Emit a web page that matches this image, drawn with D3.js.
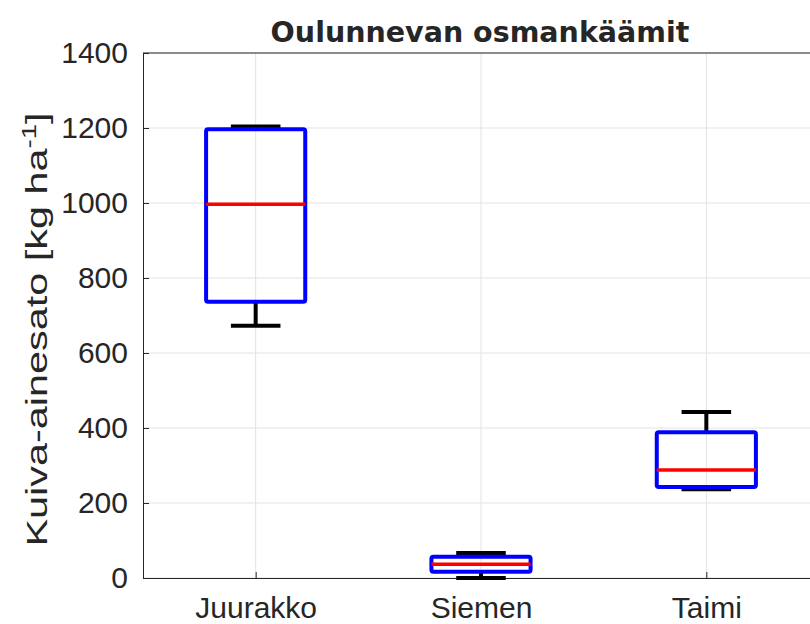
<!DOCTYPE html>
<html lang="fi">
<head>
<meta charset="UTF-8">
<title>Oulunnevan osmankäämit</title>
<script src="https://d3js.org/d3.v7.min.js"></script>
<style>
  body { margin: 0; background: #fff; }
  text { font-family: "Liberation Sans", Arial, sans-serif; fill: #262626; }
</style>
</head>
<body>
<div id="chart"></div>
<script>
// box statistics (kg/ha)
var categories = ['Juurakko', 'Siemen', 'Taimi'];
var whiskerLow  = [673, 0, 237];
var q1          = [737, 17, 243];
var median      = [997, 37, 288];
var q3          = [1197, 57, 389];
var whiskerHigh = [1204, 67, 443];
var yTicks = [0, 200, 400, 600, 800, 1000, 1200, 1400];

var W = 810, H = 624;
var margin = {left: 143, right: -9, top: 53, bottom: 46};

var svg = d3.select('#chart').append('svg')
    .attr('width', W)
    .attr('height', H);

var x = d3.scaleLinear()
    .domain([0.5, 3.5])
    .range([margin.left, W - margin.right]);
var y = d3.scaleLinear()
    .domain([0, 1400])
    .range([H - margin.bottom, margin.top]);

var g = svg.append('g');

// grid
g.selectAll('.hgrid').data(yTicks).enter().append('line')
    .attr('x1', x(0.5)).attr('x2', x(3.5))
    .attr('y1', function(d) { return y(d); })
    .attr('y2', function(d) { return y(d); })
    .attr('stroke', '#e3e3e3').attr('stroke-width', 1);
g.selectAll('.vgrid').data(categories).enter().append('line')
    .attr('x1', function(d, i) { return x(i + 1); })
    .attr('x2', function(d, i) { return x(i + 1); })
    .attr('y1', y(0)).attr('y2', y(1400))
    .attr('stroke', '#e3e3e3').attr('stroke-width', 1);

// axes
var yAxis = d3.axisLeft(y).tickValues(yTicks).tickFormat(d3.format('d'))
    .tickSizeInner(-6).tickSizeOuter(0).tickPadding(15);
var xAxis = d3.axisBottom(x).tickValues([1, 2, 3])
    .tickFormat(function(d) { return categories[d - 1]; })
    .tickSizeInner(-6).tickSizeOuter(0).tickPadding(19);

var ya = svg.append('g').attr('transform', 'translate(' + x(0.5) + ',0)').call(yAxis);
var xa = svg.append('g').attr('transform', 'translate(0,' + y(0) + ')').call(xAxis);
[ya, xa].forEach(function(a) {
    a.select('.domain').attr('stroke', '#262626').attr('stroke-width', 1);
    a.selectAll('.tick line').attr('stroke', '#262626');
    a.selectAll('.tick text').attr('font-size', 30).attr('fill', '#262626')
        .attr('font-family', '"Liberation Sans", Arial, sans-serif');
});

// top border
svg.append('line')
    .attr('x1', x(0.5)).attr('x2', x(3.5))
    .attr('y1', y(1400)).attr('y2', y(1400))
    .attr('stroke', '#262626');

// boxes
var boxHalf = 0.22, capHalf = 0.11;
var boxes = svg.selectAll('.box').data(categories).enter().append('g');

boxes.append('line') // upper whisker
    .attr('x1', function(d, i) { return x(i + 1); })
    .attr('x2', function(d, i) { return x(i + 1); })
    .attr('y1', function(d, i) { return y(q3[i]); })
    .attr('y2', function(d, i) { return y(whiskerHigh[i]); })
    .attr('stroke', '#000').attr('stroke-width', 4);
boxes.append('line') // lower whisker
    .attr('x1', function(d, i) { return x(i + 1); })
    .attr('x2', function(d, i) { return x(i + 1); })
    .attr('y1', function(d, i) { return y(q1[i]); })
    .attr('y2', function(d, i) { return y(whiskerLow[i]); })
    .attr('stroke', '#000').attr('stroke-width', 4);
boxes.append('line') // upper cap
    .attr('x1', function(d, i) { return x(i + 1 - capHalf); })
    .attr('x2', function(d, i) { return x(i + 1 + capHalf); })
    .attr('y1', function(d, i) { return y(whiskerHigh[i]); })
    .attr('y2', function(d, i) { return y(whiskerHigh[i]); })
    .attr('stroke', '#000').attr('stroke-width', 4);
boxes.append('line') // lower cap
    .attr('x1', function(d, i) { return x(i + 1 - capHalf); })
    .attr('x2', function(d, i) { return x(i + 1 + capHalf); })
    .attr('y1', function(d, i) { return y(whiskerLow[i]); })
    .attr('y2', function(d, i) { return y(whiskerLow[i]); })
    .attr('stroke', '#000').attr('stroke-width', 4);

boxes.append('rect')
    .attr('x', function(d, i) { return x(i + 1 - boxHalf); })
    .attr('width', function(d, i) { return x(i + 1 + boxHalf) - x(i + 1 - boxHalf); })
    .attr('y', function(d, i) { return y(q3[i]); })
    .attr('height', function(d, i) { return y(q1[i]) - y(q3[i]); })
    .attr('rx', 2)
    .attr('fill', 'none').attr('stroke', '#0000ff').attr('stroke-width', 4);

boxes.append('line') // median
    .attr('x1', function(d, i) { return x(i + 1 - boxHalf); })
    .attr('x2', function(d, i) { return x(i + 1 + boxHalf); })
    .attr('y1', function(d, i) { return y(median[i]); })
    .attr('y2', function(d, i) { return y(median[i]); })
    .attr('stroke', '#ff0000').attr('stroke-width', 3.5);

// title
svg.append('text')
    .attr('x', 480).attr('y', 42)
    .attr('text-anchor', 'middle')
    .attr('font-size', 28.5).attr('font-weight', 'bold')
    .style('font-family', '"DejaVu Sans", sans-serif')
    .attr('fill', '#000')
    .text('Oulunnevan osmankäämit');

// y label (stretched along its length like the original)
var yl = svg.append('text')
    .attr('transform', 'translate(47,' + ((y(0) + y(1400)) / 2 + 14) + ') rotate(-90) scale(1.38,1)')
    .attr('text-anchor', 'middle')
    .attr('font-size', 30);
yl.append('tspan').text('Kuiva-ainesato [kg ha');
yl.append('tspan').attr('dy', -11).attr('font-size', 20).text('-1');
yl.append('tspan').attr('dy', 11).text(']');
</script>
</body>
</html>
